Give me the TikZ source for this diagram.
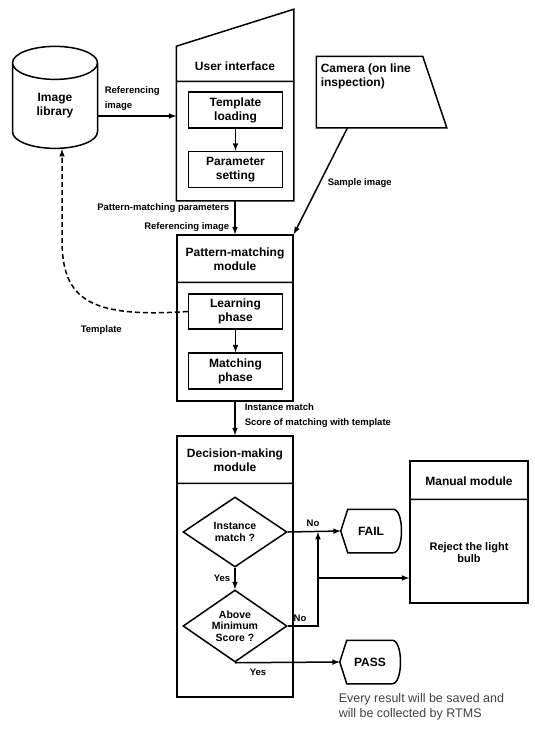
\documentclass[tikz,border=0pt]{standalone}
\usepackage{fontspec}
\setmainfont{Liberation Sans}
\usetikzlibrary{shapes.geometric}

\begin{document}
\begin{tikzpicture}[x=1pt, y=-1pt, line width=1.5pt, >=latex,
  every node/.style={align=center, inner sep=0pt, font=\bfseries\fontsize{12}{14}\selectfont},
  frame/.style={draw, minimum width=116pt},
  phase/.style={draw, minimum width=94pt, minimum height=36pt},
  lbl/.style={font=\bfseries\fontsize{9.5}{15}\selectfont},
  test/.style={diamond, draw, aspect=1.5, minimum width=104pt, minimum height=70pt, font=\bfseries\fontsize{10.5}{11.5}\selectfont},
  term/.style={minimum width=59pt, minimum height=42pt}]
  \useasboundingbox (0,0) rectangle (535,729);
  \node[cylinder, shape border rotate=90, draw, aspect=0.9, minimum width=85pt, minimum height=102pt] (lib) at (55,106) {Image\\library};
  \node[minimum width=116pt, minimum height=190pt] (ui) at (235,105) {};
  \node (uit) at (235,66) {User interface};
  \node[phase] (tl) at (235.5,110) {Template\\loading};
  \node[phase] (ps) at (235.5,169.5) {Parameter\\setting};
  \node[minimum width=129pt, minimum height=70pt] (cam) at (381.5,92) {};
  \node[anchor=north west, align=left] (camt) at (320,63) {Camera (on line\\inspection)};
  \node[frame, minimum height=166pt] (pm) at (235,318) {};
  \node (pmt) at (235,259) {Pattern-matching\\module};
  \node[phase, minimum height=35pt] (lp) at (235.5,311.5) {Learning\\phase};
  \node[phase] (mp) at (235.5,371) {Matching\\phase};
  \node[frame, minimum height=261pt] (dm) at (235,566.5) {};
  \node (dmt) at (235,460) {Decision-making\\module};
  \node[test] (d1) at (235,532) {Instance\\match ?};
  \node[test, minimum height=72pt] (d2) at (235,626) {Above\\Minimum\\Score ?};
  \node[term] (fail) at (371,531) {FAIL};
  \node[term] (pass) at (370,662) {PASS};
  \node[draw, minimum width=118pt, minimum height=142pt] (mm) at (469,532) {};
  \node (mmt) at (469,481) {Manual module};
  \node[font=\bfseries\fontsize{11}{12}\selectfont] (rj) at (469,553) {Reject the light\\bulb};
  \node[anchor=north west, align=left, font=\fontsize{12.5}{15}\selectfont, text=black!75] (note) at (338,693) {Every result will be saved and\\will be collected by RTMS};
  \draw ([yshift=-37pt]ui.north west) -- (ui.north east) -- (ui.south east) -- (ui.south west) -- cycle
        ([yshift=-72pt]ui.north west) -- ([yshift=-72pt]ui.north east)
        ([yshift=-48pt]pm.north west) -- ([yshift=-48pt]pm.north east)
        ([yshift=-48pt]dm.north west) -- ([yshift=-48pt]dm.north east)
        ([yshift=-39pt]mm.north west) -- ([yshift=-39pt]mm.north east);
  \draw (cam.north west) -- ([xshift=-24pt]cam.north east) -- (cam.south east) -- (cam.south west) -- cycle;
  \draw (fail.west) -- ([xshift=7pt]fail.north west) -- ([xshift=-8pt]fail.north east)
        .. controls ([xshift=3pt]fail.north east) and ([xshift=3pt]fail.south east) .. ([xshift=-8pt]fail.south east)
        -- ([xshift=7pt]fail.south west) -- cycle;
  \draw (pass.west) -- ([xshift=7pt]pass.north west) -- ([xshift=-8pt]pass.north east)
        .. controls ([xshift=3pt]pass.north east) and ([xshift=3pt]pass.south east) .. ([xshift=-8pt]pass.south east)
        -- ([xshift=7pt]pass.south west) -- cycle;
  \coordinate (jn) at (318,578);
  \draw[->] ([yshift=-10pt]lib.east) -- ([yshift=-10pt]lib.east -| ui.west);
  \draw[->] (tl) -- (ps);
  \draw[->] (ui.south) -- (pm.north);
  \draw[->] ([xshift=-34pt]cam.south) -- (pm.north east);
  \draw[->, dash pattern=on 5pt off 3pt] (lp.west) .. controls (90,318) and (62,300) .. (62,240) -- ([xshift=7pt]lib.south);
  \draw[->] (lp) -- (mp);
  \draw[->] (pm.south) -- (dm.north);
  \draw[->] (d1.south) -- (d2.north);
  \draw[->] (d1.east) -- (fail.west);
  \draw[->] (d2.east) -| (d1.east -| jn);
  \draw[->] (jn) -- (jn -| mm.west);
  \draw[->] (d2.south) -- (pass.west);
  \node[lbl, anchor=south west, align=left] (l1) at (104,111) {Referencing\\image};
  \node[lbl, anchor=east] (l2) at (230,208) {Pattern-matching parameters};
  \node[lbl, anchor=east] (l3) at (230,227) {Referencing image};
  \node[lbl, anchor=west] (l4) at (327,183) {Sample image};
  \node[lbl, anchor=west] (l5) at (80,330) {Template};
  \node[lbl, anchor=north west, align=left] (l6) at (244,403) {Instance match\\Score of matching with template};
  \node[lbl] (l7) at (313,523) {No};
  \node[lbl] (l8) at (300,618) {No};
  \node[lbl, anchor=east] (l9) at (231,578) {Yes};
  \node[lbl] (l10) at (258,672) {Yes};
\end{tikzpicture}
\end{document}
